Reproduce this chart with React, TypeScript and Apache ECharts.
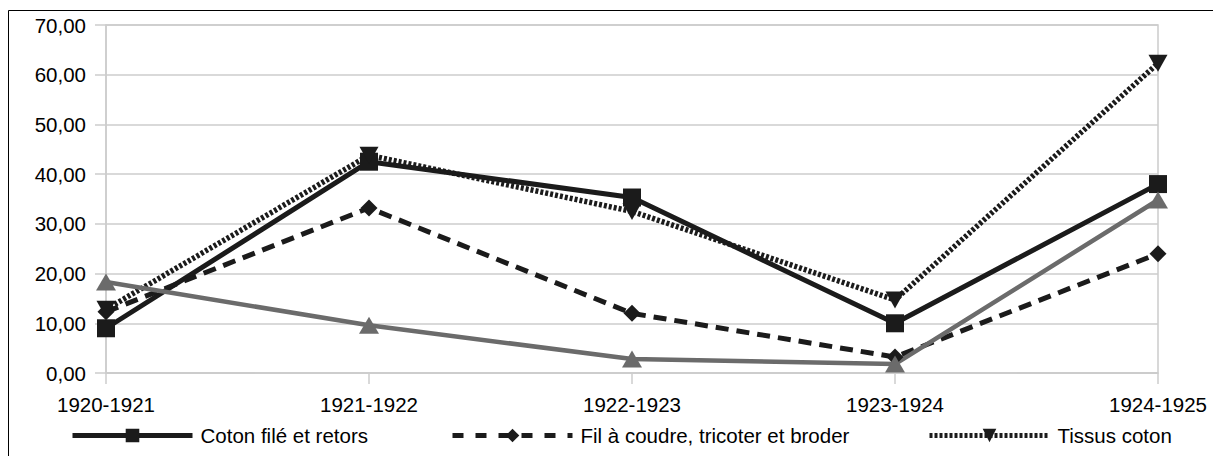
import React, { useEffect, useRef } from "react";
import * as echarts from "echarts";

const categories = ["1920-1921", "1921-1922", "1922-1923", "1923-1924", "1924-1925"];
const cotonFile = [9.0, 42.5, 35.3, 10.0, 38.0];
const filACoudre = [12.3, 33.2, 12.0, 3.2, 24.0];
const tissusCoton = [12.8, 43.8, 32.5, 14.7, 62.3];
const serieGrise = [18.3, 9.6, 2.8, 1.8, 34.8];
const seriesNames = ["Coton filé et retors", "Fil à coudre, tricoter et broder", "Tissus coton", "Autre"];

const BLACK = "#1b1b1b";
const GRAY = "#6b6b6b";
const FONT = "Liberation Sans";

export default function App() {
  const ref = useRef<HTMLDivElement>(null);
  useEffect(() => {
    if (!ref.current) return;
    const chart = echarts.init(ref.current, null, { renderer: "svg" });
    const legendCommon = {
      orient: "horizontal",
      top: 417,
      padding: 0,
      itemWidth: 120,
      itemHeight: 17,
      textStyle: { fontFamily: FONT, fontSize: 20.5, color: "#000", padding: [0, 0, 0, 3] },
      selectedMode: false,
    };
    chart.setOption({
      animation: false,
      backgroundColor: "#fff",
      graphic: [
        {
          type: "rect",
          shape: { x: 0.5, y: 2.5, width: 1400, height: 600 },
          style: { fill: "none", stroke: "#000", lineWidth: 1 },
          silent: true,
        },
      ],
      grid: {
        left: 98,
        right: 63,
        top: 17,
        bottom: 83,
        show: true,
        borderColor: "#cccccc",
        borderWidth: 1.5,
      },
      legend: [
        {
          ...legendCommon,
          left: 62,
          data: [seriesNames[0]],
          lineStyle: { width: 5, type: "solid", color: BLACK },
        },
        {
          ...legendCommon,
          left: 442,
          data: [seriesNames[1]],
          lineStyle: { width: 5, type: [11, 12], color: BLACK, cap: "butt" },
        },
        {
          ...legendCommon,
          left: 919,
          data: [seriesNames[2]],
          lineStyle: { width: 5, type: [3, 2], color: BLACK, cap: "butt" },
        },
      ],
      xAxis: {
        type: "category",
        data: categories,
        boundaryGap: false,
        axisLine: { show: true, lineStyle: { color: "#cccccc", width: 1.5 } },
        axisTick: { show: true, length: 11, lineStyle: { color: "#cccccc", width: 1.5 } },
        axisLabel: { fontFamily: FONT, fontSize: 20.5, color: "#000", margin: 21 },
        splitLine: { show: false },
      },
      yAxis: {
        type: "value",
        min: 0,
        max: 70,
        interval: 10,
        axisLine: { show: true, lineStyle: { color: "#cccccc", width: 1.5 } },
        axisTick: { show: true, length: 11, lineStyle: { color: "#cccccc", width: 1.5 } },
        axisLabel: {
          fontFamily: FONT,
          fontSize: 20.5,
          color: "#000",
          margin: 20,
          formatter: (v: number) => v.toFixed(2).replace(".", ","),
        },
        splitLine: { show: true, lineStyle: { color: "#cccccc", width: 1.5 } },
      },
      series: [
        {
          name: seriesNames[0],
          type: "line",
          data: cotonFile,
          symbol: "rect",
          symbolSize: 18,
          color: BLACK,
          itemStyle: { color: BLACK },
          lineStyle: { color: BLACK, width: 5 },
        },
        {
          name: seriesNames[1],
          type: "line",
          data: filACoudre,
          symbol: "diamond",
          symbolSize: 17,
          color: BLACK,
          itemStyle: { color: BLACK },
          lineStyle: { color: BLACK, width: 5, type: [13, 8], cap: "butt" },
        },
        {
          name: seriesNames[2],
          type: "line",
          data: tissusCoton,
          symbol: "triangle",
          symbolRotate: 180,
          symbolSize: [19, 17],
          color: BLACK,
          itemStyle: { color: BLACK },
          lineStyle: { color: BLACK, width: 5.5, type: [3, 2], cap: "butt" },
        },
        {
          name: seriesNames[3],
          type: "line",
          data: serieGrise,
          symbol: "triangle",
          symbolSize: [20, 17],
          color: GRAY,
          itemStyle: { color: GRAY },
          lineStyle: { color: GRAY, width: 4.5 },
        },
      ],
    });
    return () => chart.dispose();
  }, []);
  return <div ref={ref} style={{ width: 1213, height: 448 }} />;
}
